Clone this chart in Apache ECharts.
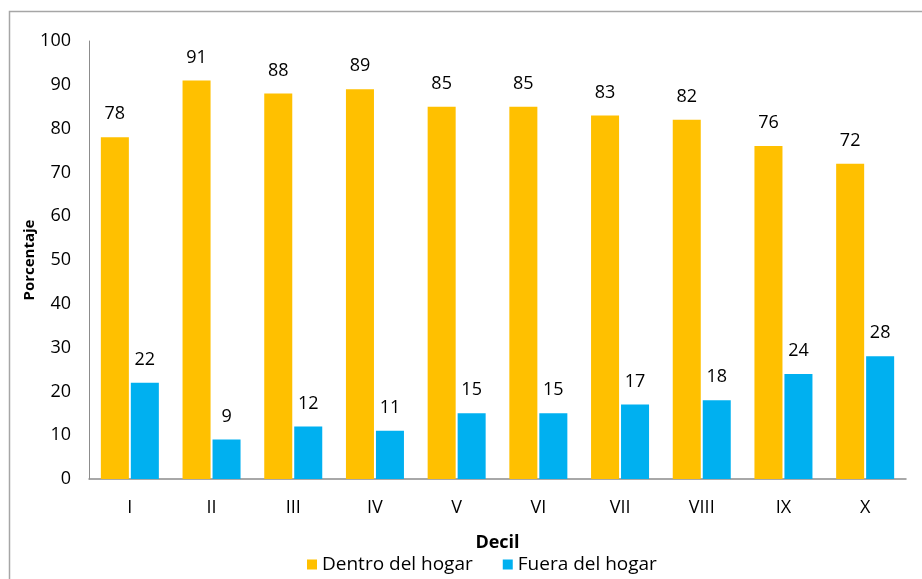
<!DOCTYPE html>
<html>
<head>
<meta charset="utf-8">
<script src="https://cdn.jsdelivr.net/npm/echarts@6/dist/echarts.min.js"></script>
<style>
  html, body { margin: 0; padding: 0; background: #fff; }
  #chart { width: 922px; height: 579px; }
</style>
</head>
<body>
<div id="chart"></div>
<script>
// Deciles and share (%) of each location
const deciles = ['I', 'II', 'III', 'IV', 'V', 'VI', 'VII', 'VIII', 'IX', 'X'];
const dentroHogar = [78, 91, 88, 89, 85, 85, 83, 82, 76, 72];
const fueraHogar = [22, 9, 12, 11, 15, 15, 17, 18, 24, 28];
const yTicks = { min: 0, max: 100, interval: 10 };

const FONT = '"Open Sans", "Liberation Sans", sans-serif';

const chart = echarts.init(document.getElementById('chart'), null, { renderer: 'canvas' });

const labelStyle = {
  show: true,
  position: 'top',
  distance: 14,
  color: '#000',
  fontFamily: FONT,
  fontSize: 18
};

chart.setOption({
  animation: false,
  backgroundColor: '#fff',
  graphic: [{
    type: 'rect',
    shape: { x: 9.5, y: 11.5, width: 960, height: 620 },
    style: { fill: 'none', stroke: '#a6a6a6', lineWidth: 1.5 },
    silent: true
  }],
  grid: { left: 89, right: 16, top: 41, bottom: 100 },
  legend: {
    data: ['Dentro del hogar', 'Fuera del hogar'],
    bottom: 0,
    left: 302,
    itemWidth: 10,
    itemHeight: 10,
    itemGap: 30,
    icon: 'rect',
    textStyle: { fontFamily: FONT, fontSize: 19, color: '#000' }
  },
  xAxis: {
    type: 'category',
    data: deciles,
    name: 'Decil',
    nameLocation: 'middle',
    nameGap: 55,
    nameTextStyle: { fontFamily: FONT, fontSize: 18, fontWeight: 'bold', color: '#000' },
    axisLine: { lineStyle: { color: '#8c8c8c', width: 1.5 } },
    axisTick: { show: false },
    axisLabel: { margin: 20, fontFamily: FONT, fontSize: 18, color: '#000' }
  },
  yAxis: {
    type: 'value',
    min: yTicks.min,
    max: yTicks.max,
    interval: yTicks.interval,
    name: 'Porcentaje',
    nameLocation: 'middle',
    nameGap: 52,
    nameMoveOverlap: false,
    nameRotate: 90,
    nameTextStyle: { fontFamily: FONT, fontSize: 15, fontWeight: 'bold', color: '#000' },
    axisLine: { show: true, lineStyle: { color: '#8c8c8c', width: 1 } },
    axisTick: { show: false },
    splitLine: { show: false },
    axisLabel: { margin: 18, fontFamily: FONT, fontSize: 18, color: '#000' }
  },
  series: [
    {
      name: 'Dentro del hogar',
      type: 'bar',
      data: dentroHogar,
      itemStyle: { color: '#FFC000' },
      barGap: '7%',
      barCategoryGap: '29%',
      label: labelStyle
    },
    {
      name: 'Fuera del hogar',
      type: 'bar',
      data: fueraHogar,
      itemStyle: { color: '#00B0F0' },
      label: labelStyle
    }
  ]
});
</script>
</body>
</html>
